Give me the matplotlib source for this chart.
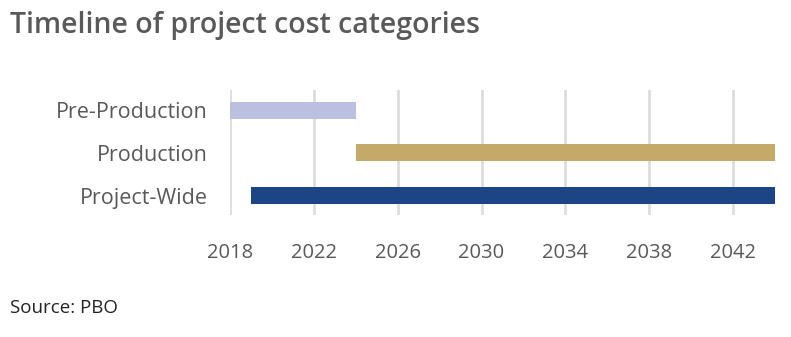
import matplotlib.pyplot as plt

plt.rcParams['font.family'] = ['Open Sans', 'DejaVu Sans']

categories = ["Pre-Production", "Production", "Project-Wide"]
start_year = [2018, 2024, 2019]
end_year = [2024, 2044, 2044]
colors = ["#bcc0e0", "#c4a968", "#1b4584"]
xticks = [2018, 2022, 2026, 2030, 2034, 2038, 2042]
text_color = "#595959"

fig = plt.figure(figsize=(7.91, 3.37), dpi=100)
ax = fig.add_axes([230 / 791, 1 - 215 / 337, 545 / 791, 125 / 337])

widths = [e - s for s, e in zip(start_year, end_year)]
ax.barh(range(len(categories)), widths, left=start_year, height=0.4,
        color=colors, zorder=3)

ax.set_xlim(2018, 2044)
ax.set_ylim(2.45, -0.47)
ax.set_xticks(xticks)
ax.set_yticks(range(len(categories)))
ax.set_yticklabels(categories)
ax.grid(axis="x", color="#dddddd", linewidth=2, zorder=0)
ax.tick_params(axis="both", length=0, labelcolor=text_color)
ax.tick_params(axis="x", pad=20, labelsize=14.5)
ax.tick_params(axis="y", pad=16, labelsize=15.5)
for s in ax.spines.values():
    s.set_visible(False)

fig.text(10 / 791, 1 - 25 / 337, "Timeline of project cost categories",
         fontsize=20.5, fontweight=600, color=text_color, va="center")
fig.text(10 / 791, 1 - 308 / 337, "Source: PBO", fontsize=13.5,
         color="#222222", va="center")

fig.savefig("out.png", dpi=100)
